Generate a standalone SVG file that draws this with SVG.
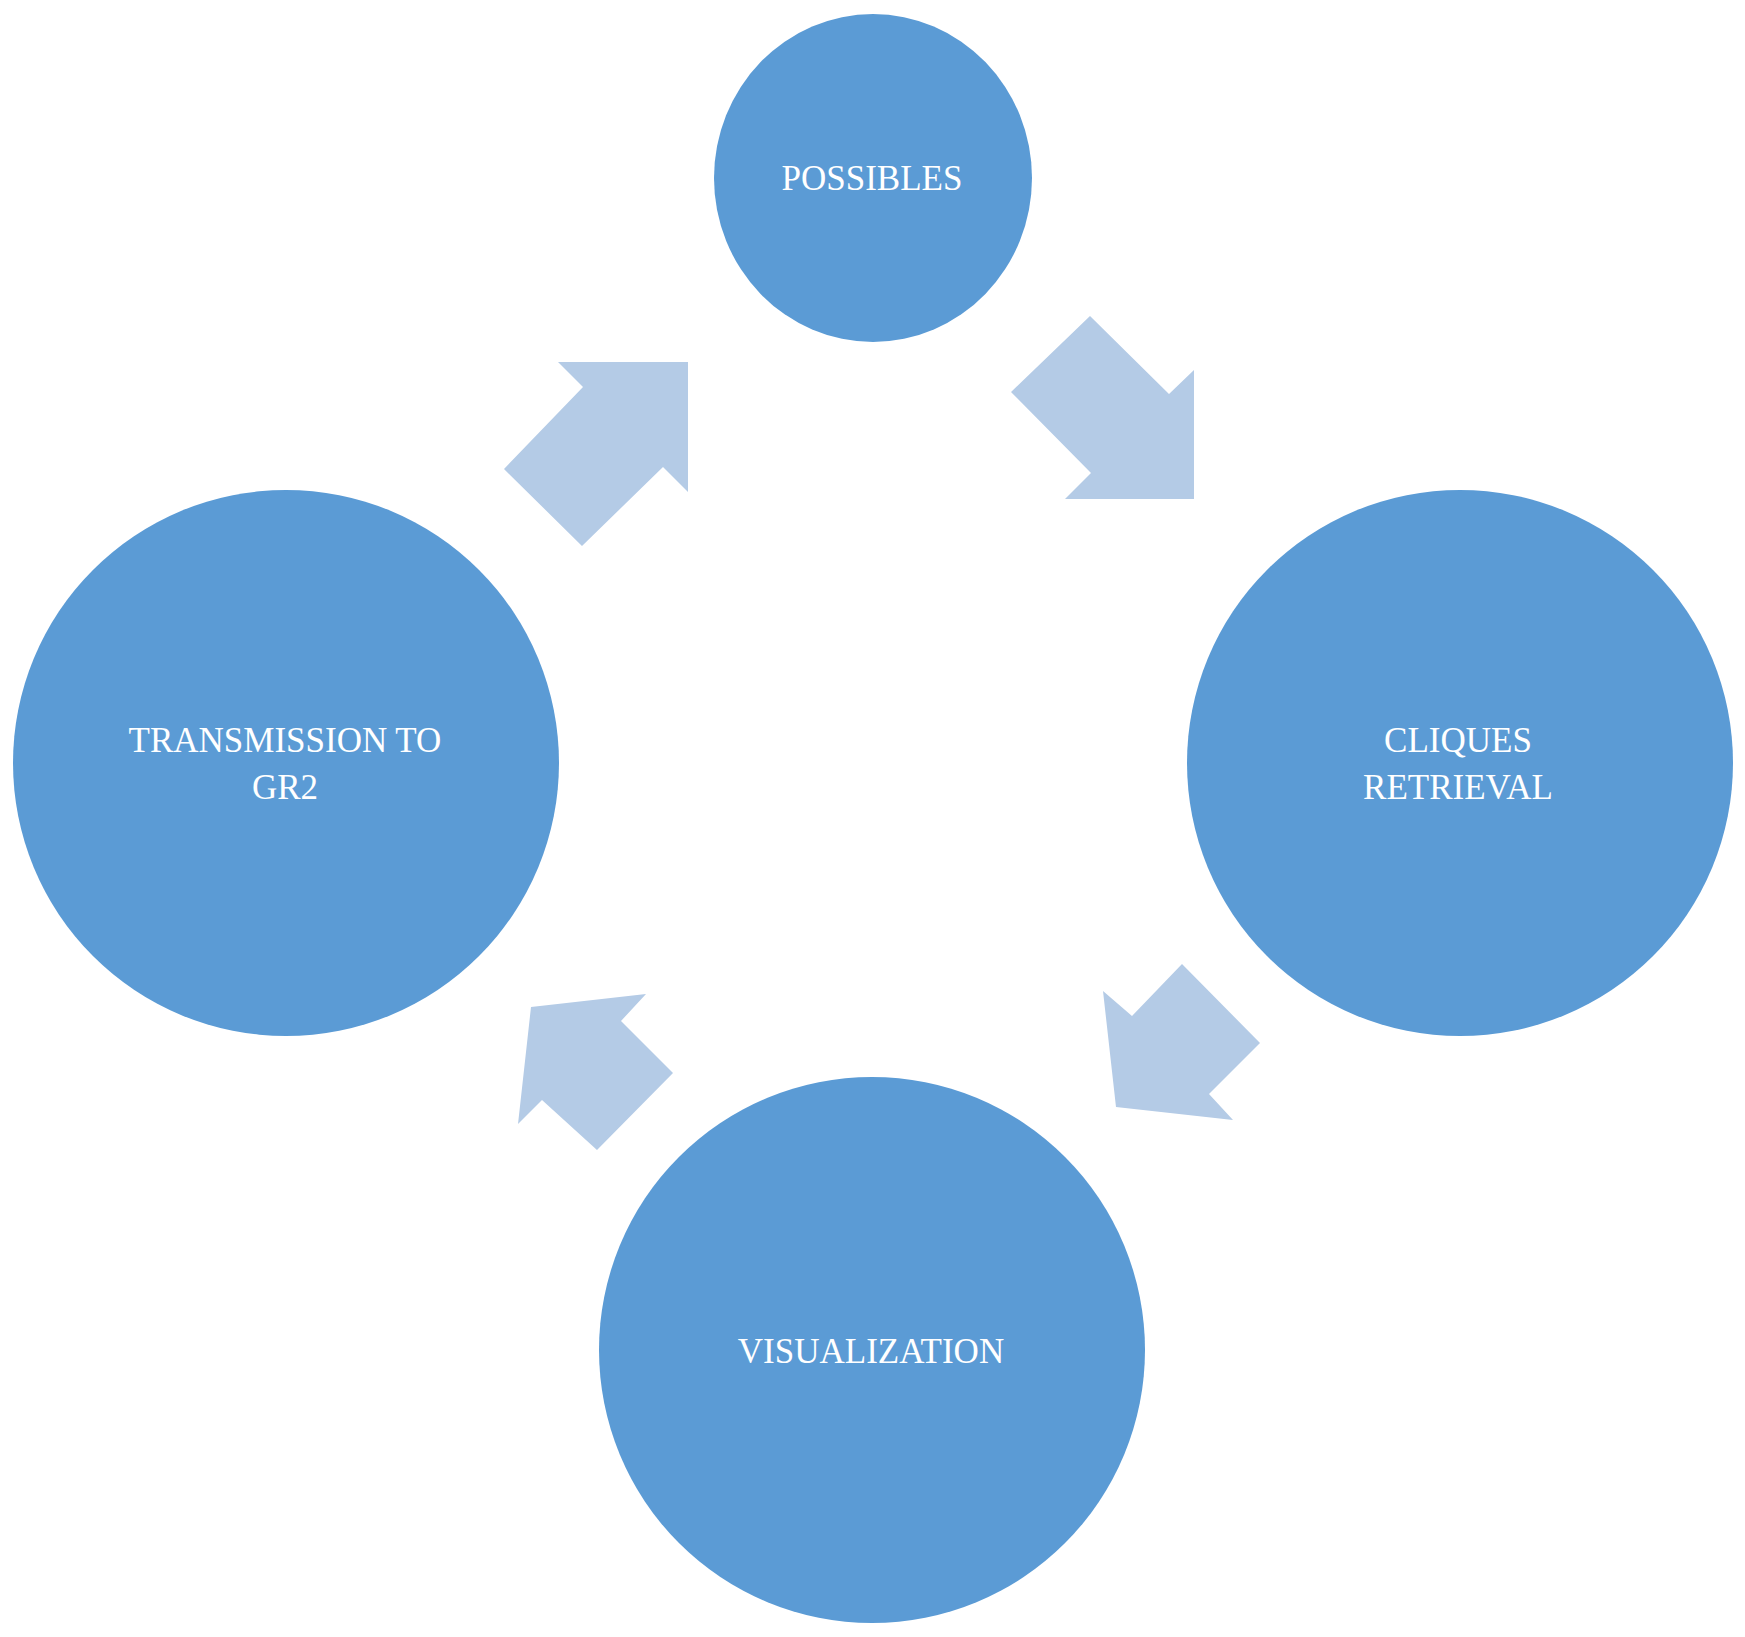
<svg xmlns="http://www.w3.org/2000/svg" width="1745" height="1637" viewBox="0 0 1745 1637">
<style>
.n{fill:#5B9BD5}
.a{fill:#B4CBE6}
.t{fill:#fff;font-family:"Liberation Serif",serif;font-size:35px;text-anchor:middle}
</style>
<rect width="1745" height="1637" fill="#fff"/>
<g id="connectors">
<polygon class="a" points="1011,392 1090,316 1169,394 1194,370 1194,499 1065,499 1091,473"/>
<polygon class="a" points="504,469 582,546 663,467 688,492 688,362 558,362 583,387"/>
<polygon class="a" points="1103,991 1132,1016 1182,964 1260,1043 1209,1094 1233,1120 1116,1107"/>
<polygon class="a" points="597,1150 673,1073 621,1021 646,994 531,1007 518,1124 542,1100"/>
</g>
<g id="possibles"><ellipse class="n" cx="873" cy="178" rx="159" ry="164"/><text class="t" x="872" y="190">POSSIBLES</text></g>
<g id="cliques"><circle class="n" cx="1460" cy="763" r="273"/><text class="t" x="1458" y="752">CLIQUES</text><text class="t" x="1458" y="799">RETRIEVAL</text></g>
<g id="visualization"><circle class="n" cx="872" cy="1350" r="273"/><text class="t" x="871" y="1363">VISUALIZATION</text></g>
<g id="transmission"><circle class="n" cx="286" cy="763" r="273"/><text class="t" x="285" y="752">TRANSMISSION TO</text><text class="t" x="285" y="799">GR2</text></g>
</svg>
